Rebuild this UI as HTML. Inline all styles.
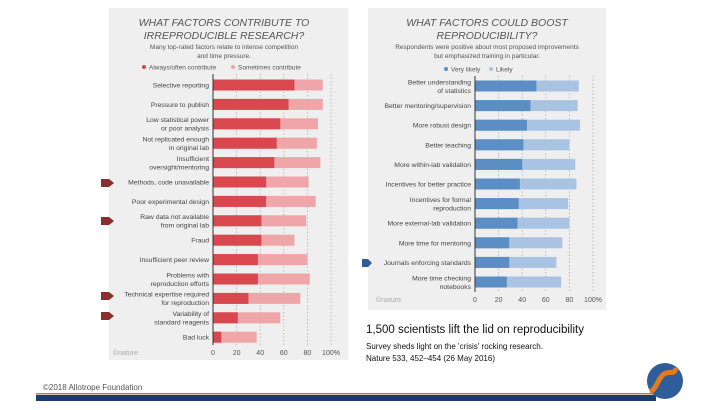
<!DOCTYPE html>
<html><head><meta charset="utf-8"><style>
body{margin:0;width:720px;height:405px;background:#fff;overflow:hidden;font-family:"Liberation Sans",sans-serif}
svg text{font-family:"Liberation Sans",sans-serif}
</style></head><body>
<svg id="s" width="720" height="405" viewBox="0 0 720 405" xmlns="http://www.w3.org/2000/svg">
<rect x="109" y="8" width="239" height="352" fill="#efefef"/>
<rect x="368" y="8" width="238" height="302" fill="#efefef"/>
<g fill="#555" font-size="10.5" font-style="italic" text-anchor="middle">
<text x="224" y="26">WHAT FACTORS CONTRIBUTE TO</text><text x="224" y="39">IRREPRODUCIBLE RESEARCH?</text></g>
<g fill="#555" font-size="6.5" text-anchor="middle">
<text x="224" y="49">Many top-rated factors relate to intense competition</text><text x="224" y="58">and time pressure.</text></g>
<g font-size="6.5" fill="#555">
<circle cx="144" cy="67" r="2" fill="#d9474f"/><text x="149" y="69.5">Always/often contribute</text>
<circle cx="233" cy="67" r="2" fill="#f0a5a8"/><text x="238" y="69.5">Sometimes contribute</text></g>
<g fill="#555" font-size="6.5" text-anchor="middle">
<text x="487" y="26" font-size="10.5" font-style="italic">WHAT FACTORS COULD BOOST</text><text x="487" y="39" font-size="10.5" font-style="italic">REPRODUCIBILITY?</text>
<text x="487" y="49">Respondents were positive about most proposed improvements</text><text x="487" y="58">but emphasized training in particular.</text></g>
<g font-size="6.5" fill="#555">
<circle cx="446" cy="69" r="2" fill="#5b8ec4"/><text x="451" y="71.5">Very likely</text>
<circle cx="491" cy="69" r="2" fill="#a9c4e3"/><text x="496" y="71.5">Likely</text></g>
<g id="L"></g><g id="R"></g>
<text x="113" y="355" font-size="7" fill="#aaa">©nature</text>
<text x="376" y="302" font-size="7" fill="#aaa">©nature</text>
<g fill="#8b2e2e">
<path d="M101 179h8l5 4-5 4h-8z"/><path d="M101 217h8l5 4-5 4h-8z"/><path d="M101 292h8l5 4-5 4h-8z"/><path d="M101 312h8l5 4-5 4h-8z"/></g>
<path d="M362 259h6l4 4-4 4h-6z" fill="#2e5d9a"/>
<text x="366" y="333" font-size="11.5" fill="#111">1,500 scientists lift the lid on reproducibility</text>
<text x="366" y="349" font-size="8" fill="#111">Survey sheds light on the 'crisis' rocking research.</text>
<text x="366" y="361" font-size="8" fill="#111">Nature 533, 452–454 (26 May 2016)</text>
<text x="43" y="390" font-size="8" fill="#555">©2018 Allotrope Foundation</text>
<rect x="36" y="393" width="620" height="1.5" fill="#b08050"/>
<rect x="36" y="395" width="620" height="6" fill="#1d3a6e"/>
<g><circle cx="665" cy="381" r="18" fill="#2e5d9a"/>
<path d="M650 392c6-2 8-14 14-18s10 2 12-6" stroke="#e27a1e" stroke-width="5" fill="none"/></g>
</svg>
<script>
const leftCats=["Selective reporting","Pressure to publish","Low statistical power|or poor analysis","Not replicated enough|in original lab","Insufficient|oversight/mentoring","Methods, code unavailable","Poor experimental design","Raw data not available|from original lab","Fraud","Insufficient peer review","Problems with|reproduction efforts","Technical expertise required|for reproduction","Variability of|standard reagents","Bad luck"];
const leftStrong=[69,64,57,54,52,45,45,41,41,38,38,30,21,7];
const leftTotal=[93,93,89,88,91,81,87,79,69,80,82,74,57,37];
const rightCats=["Better understanding|of statistics","Better mentoring/supervision","More robust design","Better teaching","More within-lab validation","Incentives for better practice","Incentives for formal|reproduction","More external-lab validation","More time for mentoring","Journals enforcing standards","More time checking|notebooks"];
const rightStrong=[52,47,44,41,40,38,37,36,29,29,27];
const rightTotal=[88,87,89,80,85,86,79,80,74,69,73];
const ticks=["0","20","40","60","80","100%"];
const tickVals=[0,20,40,60,80,100];
const NS="http://www.w3.org/2000/svg";
function mk(t,a,p){const e=document.createElementNS(NS,t);for(const k in a)e.setAttribute(k,a[k]);p.appendChild(e);return e;}
function chart(g,cats,strong,total,x0,y0,step,yTop,yBot,dark,light,tickY){
  const sx=v=>x0+v*1.18, cy=i=>y0+i*step;
  tickVals.forEach((v,i)=>{
    if(v>0){const l=mk('line',{x1:sx(v),x2:sx(v),y1:yTop,y2:yBot,stroke:'#999','stroke-width':0.6,'stroke-dasharray':'1.5,2'},g);
    
    }
    const t=mk('text',{x:sx(v),y:tickY,'font-size':7,fill:'#555','text-anchor':'middle'},g);t.textContent=ticks[i];
    
    
  });
  cats.forEach((c,i)=>{
    const y=cy(i);
    const b2=mk('rect',{x:sx(0),y:y-5.5,width:sx(total[i])-sx(0),height:11,fill:light},g);
    
    
    const b1=mk('rect',{x:sx(0),y:y-5.5,width:sx(strong[i])-sx(0),height:11,fill:dark},g);
    
    
    const parts=c.split('|');
    parts.forEach((p,j)=>{
      const t=mk('text',{x:x0-4,y:y+2.5+(j-(parts.length-1)/2)*8.5,'font-size':6.8,fill:'#444','text-anchor':'end'},g);
      t.textContent=p;
      
      
    });
  });
  const ax=mk('line',{x1:x0,x2:x0,y1:yTop,y2:yBot,stroke:'#333','stroke-width':1},g);
  
  
}
chart(document.getElementById('L'),leftCats,leftStrong,leftTotal,213,85,19.4,74,345,'#d9474f','#f0a5a8',355);
chart(document.getElementById('R'),rightCats,rightStrong,rightTotal,475,86,19.6,76,292,'#5b8ec4','#a9c4e3',302);
</script>
</body></html>
